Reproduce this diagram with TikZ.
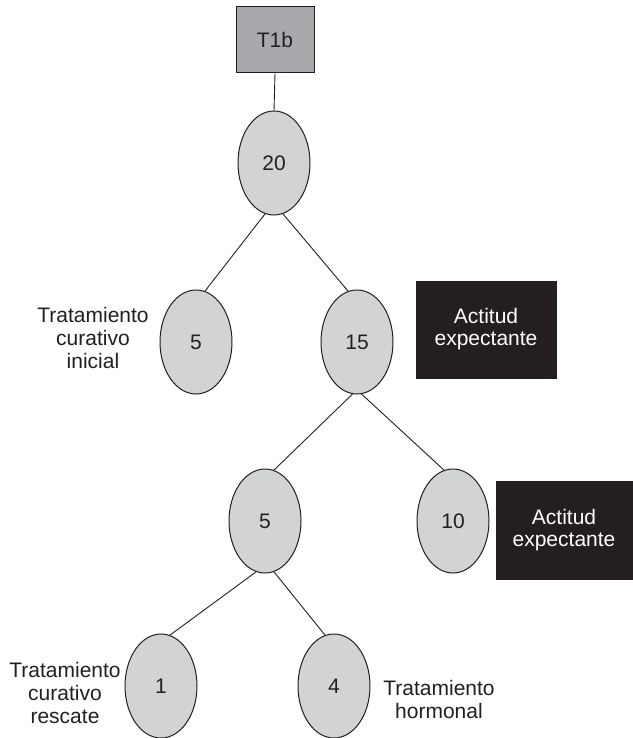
\documentclass[tikz,border=0pt]{standalone}
\usepackage{fontspec}
\setmainfont{Liberation Sans}
\usetikzlibrary{shapes.geometric}
\definecolor{ellfill}{HTML}{D1D3D4}
\definecolor{inkc}{HTML}{231F20}
\definecolor{boxgray}{HTML}{A7A9AC}
\tikzset{
  oval/.style={ellipse, draw=inkc, line width=1pt, fill=ellfill, minimum width=72pt, minimum height=104pt, inner sep=0pt, font=\fontsize{21}{23}\selectfont, text=inkc},
  darkbox/.style={rectangle, fill=inkc, draw=inkc, text=white, minimum width=140pt, minimum height=97pt, inner sep=0pt, align=center, font=\fontsize{21}{22}\selectfont},
  rootbox/.style={rectangle, fill=boxgray, draw=inkc, line width=1pt, minimum width=78pt, minimum height=66pt, inner sep=0pt, font=\fontsize{21}{23}\selectfont, text=inkc},
  lbl/.style={align=center, inner sep=0pt, font=\fontsize{21}{23}\selectfont, text=inkc},
  link/.style={draw=inkc, line width=0.9pt}
}
\begin{document}
\begin{tikzpicture}[x=1pt,y=-1pt]
\useasboundingbox (0,0) rectangle (632,738);
\node[rootbox] (t1b) at (275,40) {T1b};
\node[oval] (n20) at (274,163) {20};
\node[oval] (n5a) at (196,342) {5};
\node[oval] (n15) at (357,342) {15};
\node[darkbox] (box1) at (486,329.5) {Actitud\\expectante};
\node[oval] (n5b) at (265,521) {5};
\node[oval] (n10) at (453,521) {10};
\node[darkbox, minimum width=136pt, minimum height=98pt] (box2) at (564,530) {Actitud\\expectante};
\node[oval] (n1) at (161,686) {1};
\node[oval] (n4) at (334,686) {4};
\node[lbl] (lab1) at (93,338) {Tratamiento\\curativo\\inicial};
\node[lbl] (lab2) at (65,693) {Tratamiento\\curativo\\rescate};
\node[lbl] (lab3) at (439,699) {Tratamiento\\hormonal};
\draw[link] (t1b.south) -- (n20.north);
\draw[link] (n20.260) -- (n5a.80);
\draw[link] (n20.280) -- (n15.100);
\draw[link] (n15.265) -- (n5b.80);
\draw[link] (n15.275) -- (n10.100);
\draw[link] (n5b.260) -- (n1.80);
\draw[link] (n5b.280) -- (n4.100);
\end{tikzpicture}
\end{document}
